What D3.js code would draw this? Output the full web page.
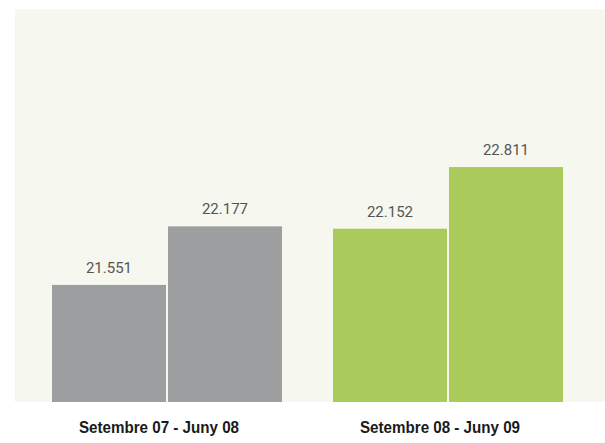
<!DOCTYPE html>
<html>
<head>
<meta charset="utf-8">
<script src="https://cdn.jsdelivr.net/npm/d3@7"></script>
<style>
  html, body { margin: 0; padding: 0; background: #ffffff; }
  svg { display: block; }
</style>
</head>
<body>
<svg id="chart" width="605" height="443"></svg>
<script>
// ---- data ----
const periods = ["Setembre 07 - Juny 08", "Setembre 08 - Juny 09"];
const seriesKeys = ["a", "b"];
const valuesPeriod1 = [21.551, 22.177];
const valuesPeriod2 = [22.152, 22.811];
const valueLabels1 = ["21.551", "22.177"];
const valueLabels2 = ["22.152", "22.811"];
const periodColors = ["#9d9ea0", "#abca5c"];

const rows = [
  { period: periods[0], values: valuesPeriod1, labels: valueLabels1, color: periodColors[0] },
  { period: periods[1], values: valuesPeriod2, labels: valueLabels2, color: periodColors[1] }
];

// ---- layout ----
const plot = { left: 15, right: 605, top: 9, bottom: 402 };

const svg = d3.select("#chart");

svg.append("rect")
  .attr("x", plot.left).attr("y", plot.top)
  .attr("width", plot.right - plot.left)
  .attr("height", plot.bottom - plot.top)
  .attr("fill", "#f6f8ef");

const xGroup = d3.scaleBand().domain(periods).range([52, 563]).paddingInner(0.1815).paddingOuter(0);
const xInner = d3.scaleBand().domain(seriesKeys).range([0, xGroup.bandwidth()]).paddingInner(0.0172).paddingOuter(0);
const y = d3.scaleLinear().domain([20.3, 24.5]).range([plot.bottom, plot.top]);

// category labels sit slightly left of the bar-group centres in the reference
const xLabel = d3.scaleBand().domain(periods).range([44, 555]).paddingInner(0.1815).paddingOuter(0);

const groups = svg.selectAll("g.grp").data(rows).join("g")
  .attr("class", "grp")
  .attr("transform", d => `translate(${xGroup(d.period)},0)`);

groups.selectAll("rect.bar")
  .data(d => d.values.map((v, i) => ({ key: seriesKeys[i], v, label: d.labels[i], color: d.color })))
  .join("rect")
  .attr("class", "bar")
  .attr("x", d => xInner(d.key))
  .attr("y", d => y(d.v))
  .attr("width", xInner.bandwidth())
  .attr("height", d => plot.bottom - y(d.v))
  .attr("fill", d => d.color);

groups.selectAll("text.val")
  .data(d => d.values.map((v, i) => ({ key: seriesKeys[i], v, label: d.labels[i] })))
  .join("text")
  .attr("class", "val")
  .attr("x", d => xInner(d.key) + xInner.bandwidth() / 2)
  .attr("y", d => y(d.v) - 12)
  .attr("text-anchor", "middle")
  .attr("font-family", "Roboto, 'Liberation Sans', sans-serif")
  .attr("font-size", 15)
  .attr("fill", "#555555")
  .text(d => d.label);

svg.selectAll("text.cat").data(periods).join("text")
  .attr("class", "cat")
  .attr("x", d => xLabel(d) + xLabel.bandwidth() / 2)
  .attr("y", 433)
  .attr("text-anchor", "middle")
  .attr("font-family", "'Liberation Sans', Arial, sans-serif")
  .attr("font-weight", "bold")
  .attr("font-size", 16)
  .attr("textLength", 160)
  .attr("lengthAdjust", "spacingAndGlyphs")
  .attr("fill", "#1a1a1a")
  .text(d => d);
</script>
</body>
</html>
